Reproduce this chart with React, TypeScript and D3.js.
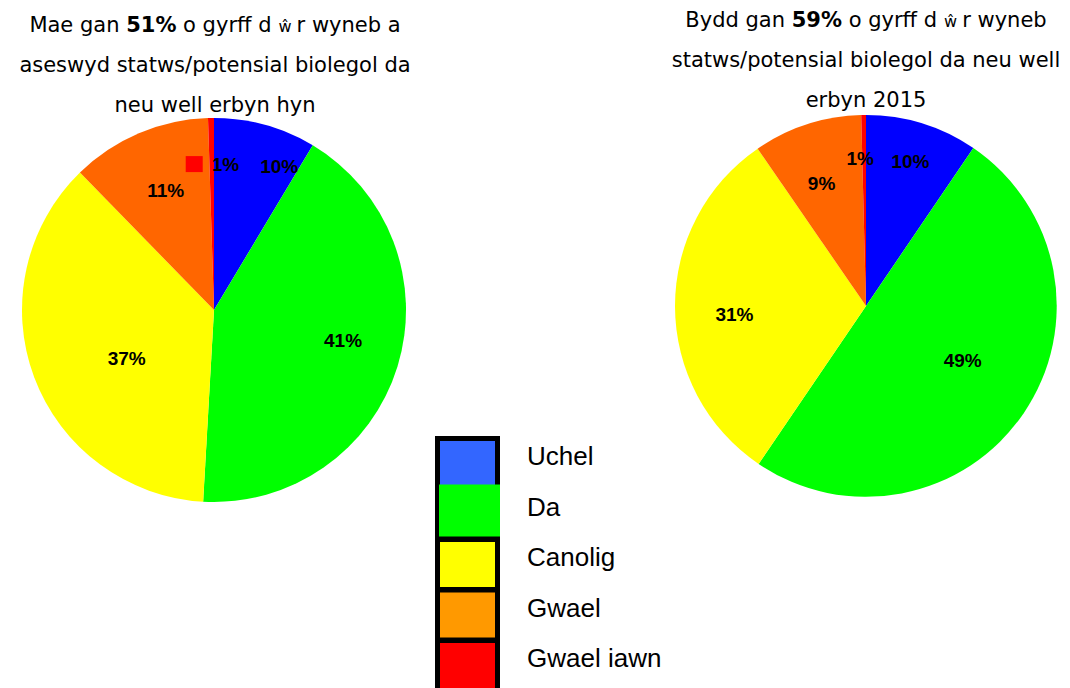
import React, { useEffect, useRef } from "react";
import * as d3 from "d3";

const categories = ["Uchel", "Da", "Canolig", "Gwael", "Gwael iawn"];
const pieColors = ["#0000ff", "#00ff00", "#ffff00", "#ff6600", "#ff0000"];
const legendColors = ["#3366ff", "#00ff00", "#ffff00", "#ff9900", "#ff0000"];

// share of water bodies (%)
const currentValues = [8.6, 42.3, 36.8, 11.8, 0.5];
const currentLabels = ["10%", "41%", "37%", "11%", "1%"];
const targetValues = [9.5, 50.0, 30.9, 9.2, 0.4];
const targetLabels = ["10%", "49%", "31%", "9%", "1%"];

const W = 1070;
const H = 688;
const titleFont = "'DejaVu Sans', Verdana, sans-serif";
const labelFont = "'Liberation Sans', Arial, sans-serif";

// label placement: fraction of radius and angle nudge (deg) per slice
const leftLabelPos = { radius: [0.82, 0.69, 0.52, 0.67, 0.76], nudge: [9, -4, -8.5, 1, 0] };
const rightLabelPos = { radius: [0.79, 0.58, 0.69, 0.68, 0.77], nudge: [0, -5, -3.5, -2, 0] };

const App = () => {
  const ref = useRef(null);

  useEffect(() => {
    const svg = d3.select(ref.current);
    svg.selectAll("*").remove();

    const drawPie = (values, labels, pos, cx, cy, r, marker) => {
      const g = svg.append("g").attr("transform", `translate(${cx},${cy})`);
      const pie = d3.pie().sort(null).value((d) => d);
      const arcs = pie(values);
      const arc = d3.arc().innerRadius(0).outerRadius(r);

      g.selectAll("path")
        .data(arcs)
        .join("path")
        .attr("d", arc)
        .attr("fill", (d, i) => pieColors[i]);

      arcs.forEach((d, i) => {
        const a = (d.startAngle + d.endAngle) / 2 + (pos.nudge[i] * Math.PI) / 180;
        const rr = pos.radius[i] * r;
        const x = rr * Math.sin(a);
        const y = -rr * Math.cos(a);
        const last = i === arcs.length - 1;
        if (last && marker) {
          g.append("rect")
            .attr("x", x - 26)
            .attr("y", y - 8)
            .attr("width", 17)
            .attr("height", 16)
            .attr("fill", pieColors[i]);
        }
        g.append("text")
          .attr("x", last && !marker ? x - 4 : x)
          .attr("y", y)
          .attr("text-anchor", last && marker ? "start" : "middle")
          .attr("dominant-baseline", "central")
          .attr("font-family", labelFont)
          .attr("font-weight", "bold")
          .attr("font-size", 19)
          .attr("fill", "#000")
          .text(labels[i]);
      });
    };

    drawPie(currentValues, currentLabels, leftLabelPos, 214, 310, 192, true);
    drawPie(targetValues, targetLabels, rightLabelPos, 866, 306, 191, false);

    // titles
    const title = (cx, y0, lines) => {
      lines.forEach((parts, li) => {
        const t = svg
          .append("text")
          .attr("x", cx)
          .attr("y", y0 + li * 40)
          .attr("text-anchor", "middle")
          .attr("font-family", titleFont)
          .attr("font-size", 21)
          .attr("fill", "#000");
        parts.forEach((p) => {
          const s = t.append("tspan").text(p.t);
          if (p.b) s.attr("font-weight", "bold");
          if (p.small) s.attr("font-size", 16).attr("dx", 7);
          if (p.dx) s.attr("dx", p.dx);
        });
      });
    };

    title(215, 31.5, [
      [
        { t: "Mae gan  " },
        { t: "51%", b: true },
        { t: " o gyrff d" },
        { t: "ŵ", small: true },
        { t: "r wyneb a", dx: 5 },
      ],
      [{ t: "aseswyd statws/potensial biolegol da" }],
      [{ t: "neu well erbyn hyn" }],
    ]);

    title(866, 27, [
      [
        { t: "Bydd gan " },
        { t: "59%", b: true },
        { t: " o gyrff d" },
        { t: "ŵ", small: true },
        { t: "r wyneb", dx: 5 },
      ],
      [{ t: "statws/potensial biolegol da neu well" }],
      [{ t: "erbyn 2015" }],
    ]);

    // legend
    const y = d3.scaleBand().domain(categories).range([438, 438 + 50.5 * 5]);
    const lg = svg.append("g");
    lg.append("rect")
      .attr("x", 435)
      .attr("y", 436)
      .attr("width", 65)
      .attr("height", 280)
      .attr("fill", "#000");

    categories.forEach((c, i) => {
      const top = y(c) + 3;
      const big = i === 1;
      lg.append("rect")
        .attr("x", big ? 439 : 440)
        .attr("y", big ? top - 7 : top)
        .attr("width", big ? 61 : 55)
        .attr("height", big ? 52 : 45)
        .attr("fill", legendColors[i]);
      lg.append("text")
        .attr("x", 527)
        .attr("y", top + 15)
        .attr("dominant-baseline", "central")
        .attr("font-family", "'Liberation Sans', Arial, sans-serif")
        .attr("font-size", 26)
        .attr("fill", "#000")
        .text(c);
    });
  }, []);

  return (
    <svg
      ref={ref}
      width={W}
      height={H}
      style={{ position: "absolute", left: 0, top: 0, background: "#fff" }}
    />
  );
};

export default App;
